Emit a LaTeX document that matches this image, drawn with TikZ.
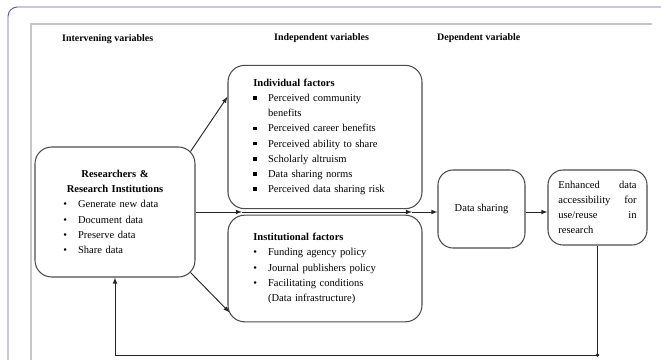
\documentclass[tikz,border=0pt]{standalone}
\usepackage{fontspec}
\setmainfont{Liberation Serif}
\usetikzlibrary{calc}
\definecolor{framepurple}{RGB}{104,92,172}
\newcommand{\bul}[2][\textbullet]{\par\noindent\makebox[1.4em][l]{#1}#2}
\newcommand{\cont}[1]{\par\noindent\hspace*{1.4em}#1}
\newcommand{\sqbul}{\raisebox{1.6pt}{\rule{3pt}{3pt}}}

\begin{document}
\begin{tikzpicture}[x=0.03cm, y=-0.03cm, >=latex,
  box/.style={draw=black!70, line width=0.9pt, rounded corners=0.5cm, inner sep=2pt, font=\fontsize{9}{13}\selectfont},
  head/.style={anchor=west, font=\bfseries\fontsize{8.5}{10}\selectfont},
  link/.style={->, line width=0.8pt, draw=black!85}]
  \useasboundingbox (0,0) rectangle (661,360);
  % frames
  \draw[framepurple, line width=0.8pt, rounded corners=8] (8,360) -- (8,7) -- (661,7);
  \draw[black!22, line width=1.8pt] (31,360) -- (31,24) -- (652,24);
  % headings
  \node[head] (hint) at (58,39) {Intervening variables};
  \node[head] (hind) at (270,38) {Independent variables};
  \node[head] (hdep) at (433,38) {Dependent variable};
  % boxes
  \node[box, minimum width=4.8cm, minimum height=3.9cm, text width=3.1cm] (res) at (115,212)
    {{\centering\bfseries Researchers \&\\ Research Institutions\par}%
     \bul{Generate new data}\bul{Document data}\bul{Preserve data}\bul{Share data}};
  \node[box, minimum width=5.82cm, minimum height=4.3cm, text width=4.3cm] (indiv) at (325,137)
    {{\bfseries Individual factors\par}%
     \bul[\sqbul]{Perceived community}\cont{benefits}\bul[\sqbul]{Perceived career benefits}%
     \bul[\sqbul]{Perceived ability to share}\bul[\sqbul]{Scholarly altruism}%
     \bul[\sqbul]{Data sharing norms}\bul[\sqbul]{Perceived data sharing risk}};
  \node[box, minimum width=5.82cm, minimum height=3.2cm, text width=4.3cm] (inst) at (325,268.5)
    {{\bfseries Institutional factors\par}%
     \bul{Funding agency policy}\bul{Journal publishers policy}%
     \bul{Facilitating conditions}\cont{(Data infrastructure)}};
  \node[box, minimum width=2.61cm, minimum height=2.34cm, rounded corners=0.45cm] (data) at (481.5,209) {Data sharing};
  \node[box, minimum width=2.97cm, minimum height=2.25cm, rounded corners=0.45cm, text width=2.35cm] (enh) at (597.5,207.5)
    {Enhanced\hfill data\\ accessibility\hfill for\\ use/reuse\hfill in\\ research};
  % connectors
  \coordinate (mid) at (242,212);
  \coordinate (jn) at (412,212);
  \coordinate (bot) at (0,355);
  \draw[link] ($(res.north east)+(-5,5)$) -- ($(indiv.north west)+(0,32)$);
  \draw[link] ($(res.south east)+(-5,-5)$) -- ($(inst.south west)+(2,-10)$);
  \draw[link] (res.east |- mid) -- (mid);
  \draw[link] (mid) -- (jn);
  \draw[link] (jn) -- (jn -| data.west);
  \draw[link] (data.east |- mid) -- (mid -| enh.west);
  \draw[link] (enh.south) -- (enh.south |- bot) -- (res.south |- bot) -- (res.south);
  \filldraw[black!85] (enh.south |- bot) circle[radius=1.5];
\end{tikzpicture}
\end{document}
